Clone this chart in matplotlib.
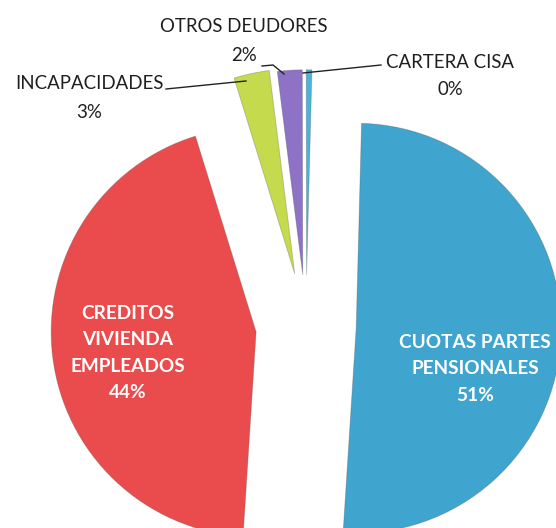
import matplotlib
matplotlib.use("Agg")
import matplotlib.pyplot as plt

# ---- data ----
categories = ["CUOTAS PARTES\nPENSIONALES", "CREDITOS\nVIVIENDA\nEMPLEADOS",
              "INCAPACIDADES", "OTROS DEUDORES", "CARTERA CISA"]
values = [50.6, 44.2, 2.8, 1.95, 0.45]
colors = ["#3FA4CE", "#EA4C4D", "#C6DA4E", "#8D72C6", "#4DB2DA"]
explode_frac = [0.245, 0.245, 0.26, 0.25, 0.25]

W, H = 556, 528
fig = plt.figure(figsize=(W / 100, H / 100), dpi=100)
ax = fig.add_axes([0, 0, 1, 1])

R = 205
cx, cy = 306, H - 326
ax.pie(values, colors=colors, explode=[e * R for e in explode_frac],
       startangle=88.5, counterclock=False, radius=R, center=(cx, cy),
       wedgeprops=dict(linewidth=0.6, edgecolor="#55555555"))

ax.set_xlim(0, W)
ax.set_ylim(0, H)
ax.set_aspect("equal")
ax.axis("off")

total = sum(values)
pct = [f"{round(v / total * 100)}%" for v in values]

def Y(y):
    return H - y

font = "Lato"
# inside labels
ax.text(475, Y(369), categories[0] + "\n" + pct[0], color="white",
        fontsize=13.7, fontweight="bold", family=font, ha="center", va="center",
        linespacing=1.68)
ax.text(128, Y(353), categories[1] + "\n" + pct[1], color="white",
        fontsize=13.7, fontweight="bold", family=font, ha="center", va="center",
        linespacing=1.68)

# outside labels
tc = "#1e1e1e"
ax.text(89, Y(98), categories[2] + "\n" + pct[2], color=tc, fontsize=13.4,
        family=font, ha="center", va="center", linespacing=1.8)
ax.text(244, Y(41), categories[3] + "\n" + pct[3], color=tc, fontsize=13.4,
        family=font, ha="center", va="center", linespacing=1.9)
ax.text(450, Y(76), categories[4] + "\n" + pct[4], color=tc, fontsize=13.4,
        family=font, ha="center", va="center", linespacing=1.75)

# leader lines
lc = "#222222"
ax.plot([166, 246], [Y(89), Y(81)], color=lc, lw=1)
ax.plot([262, 273, 284], [Y(66), Y(65), Y(74)], color=lc, lw=1)
ax.plot([381, 303], [Y(65), Y(73)], color=lc, lw=1)

fig.savefig("out.png", dpi=100, facecolor="white")
